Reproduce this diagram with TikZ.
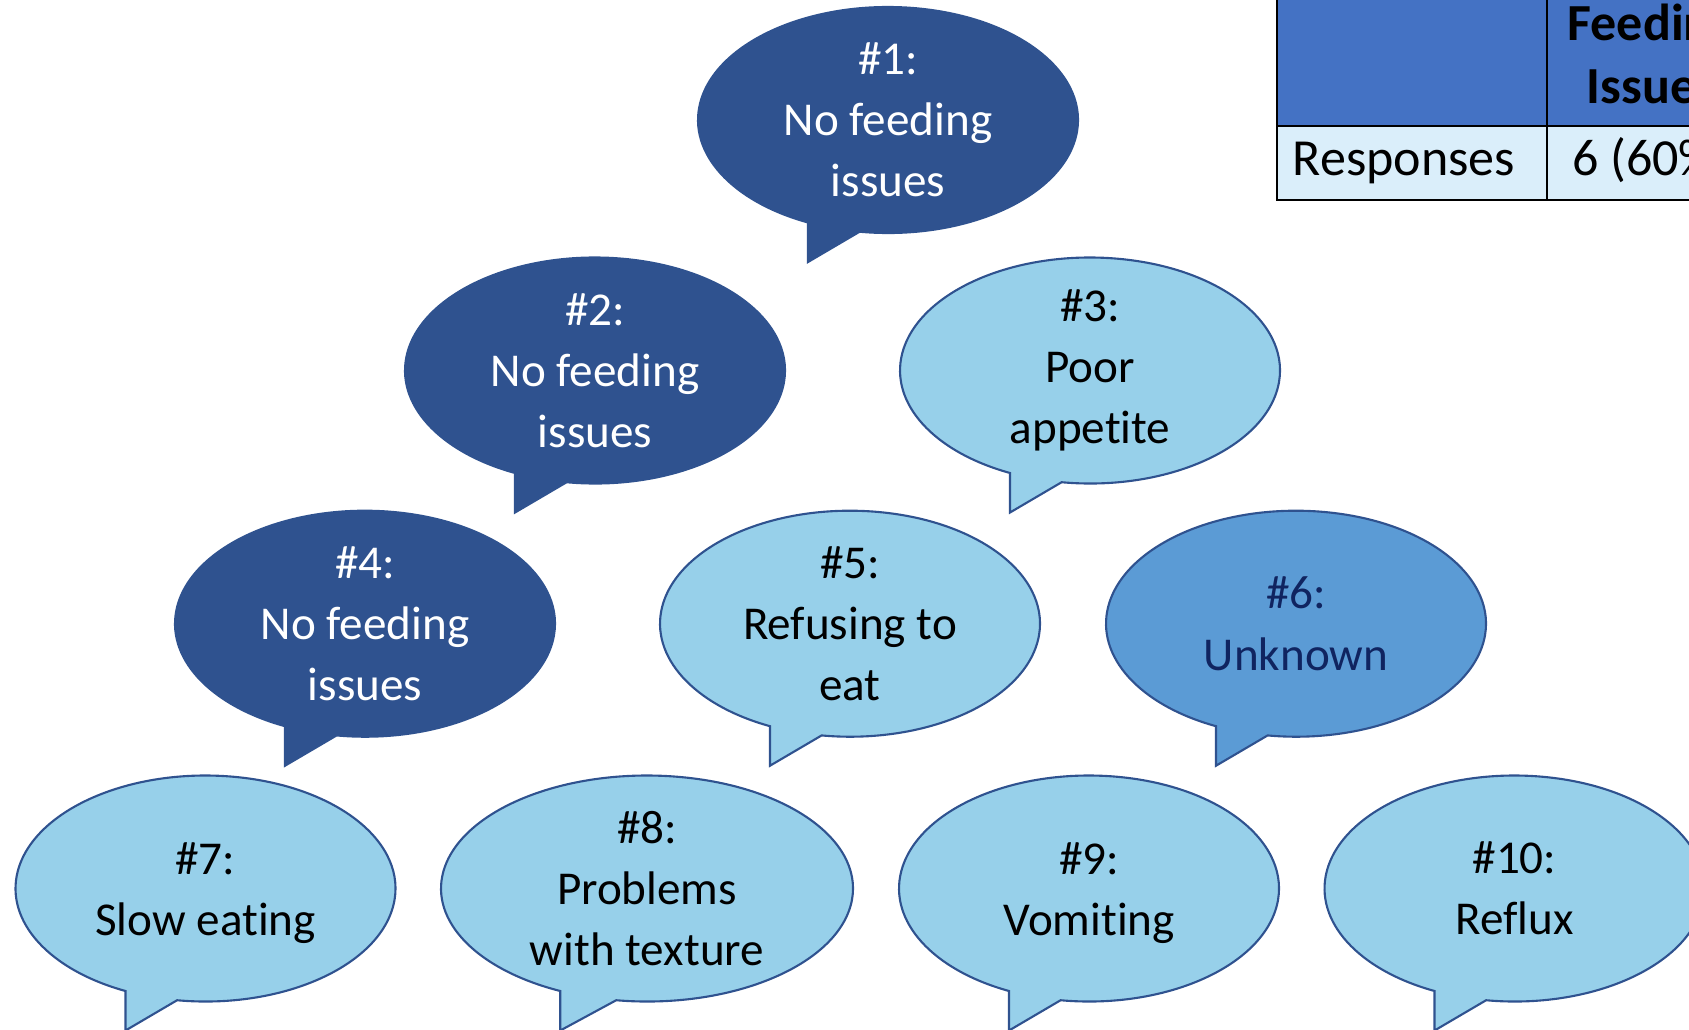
\documentclass[tikz,border=0pt]{standalone}
\usepackage{fontspec}
\setmainfont{Carlito}[Ligatures=NoCommon]
\usetikzlibrary{positioning}
\definecolor{darkblue}{RGB}{47,82,143}
\definecolor{skyblue}{RGB}{151,208,234}
\definecolor{midblue}{RGB}{91,155,213}
\definecolor{navytext}{RGB}{16,36,96}
\definecolor{headblue}{RGB}{68,114,196}
\definecolor{rowblue}{RGB}{218,238,250}

\tikzset{
  darkbubble/.style={fill=darkblue, draw=darkblue},
  lightbubble/.style={fill=skyblue, draw=darkblue},
  midbubble/.style={fill=midblue, draw=darkblue},
  bubbletext/.style={align=center, font=\fontsize{13.4}{17.4}\selectfont, inner sep=0pt},
  tabletext/.style={font=\fontsize{14.8}{18}\selectfont, inner sep=0pt},
}
% speech bubble: name, centre x, centre y, x radius, bubble style, text style, text
\newcommand{\speech}[7]{%
  \draw[#5, line width=0.6pt] ([shift={(#2,#3)}]261.4:#4 and 113)
    arc[start angle=261.4, end angle=605.1, x radius=#4, y radius=113]
    -- ++(0,-39.5) -- cycle;
  \node[bubbletext, #6] (#1) at (#2,#3) {#7};
}

\begin{document}
\begin{tikzpicture}[x=0.01cm, y=0.01cm]
  \useasboundingbox (0,0) rectangle (1689,1029);
  \clip (0,0) rectangle (1689,1029);
  % table in the corner
  \fill[headblue] (1277,903) rectangle (1760,1040);
  \fill[rowblue] (1277,829) rectangle (1760,903);
  \draw[line width=0.7pt] (1277,1040) -- (1277,829) -- (1760,829);
  \draw[line width=0.7pt] (1277,903) -- (1760,903);
  \draw[line width=0.7pt] (1547,1040) -- (1547,829);
  \node[tabletext, font=\fontsize{14.8}{18}\selectfont\bfseries, anchor=base] (headfeed) at (1652,989) {Feeding};
  \node[tabletext, font=\fontsize{14.8}{18}\selectfont\bfseries, anchor=base] (headissue) at (1652,926) {Issues};
  \node[tabletext, anchor=base west] (responses) at (1292,854) {Responses};
  \node[tabletext, anchor=base] (count) at (1652,854) {6 (60\%)};
  % bubbles
  \speech{one}{888}{909}{190}{darkbubble}{text=white}{\#1:\\No feeding\\issues}
  \speech{two}{595}{658.5}{190}{darkbubble}{text=white}{\#2:\\No feeding\\issues}
  \speech{three}{1090}{658.5}{190}{lightbubble}{text=black}{\#3:\\Poor\\appetite}
  \speech{four}{365}{405.3}{190}{darkbubble}{text=white}{\#4:\\No feeding\\issues}
  \speech{five}{850}{405.3}{190}{lightbubble}{text=black}{\#5:\\Refusing to\\eat}
  \speech{six}{1296}{405.3}{190}{midbubble}{text=navytext}{\#6:\\Unknown}
  \speech{seven}{205.5}{140.5}{190}{lightbubble}{text=black, yshift=-1.2pt}{\#7:\\Slow eating}
  \speech{eight}{647}{140.5}{206}{lightbubble}{text=black}{\#8:\\Problems\\with texture}
  \speech{nine}{1089}{140.5}{190}{lightbubble}{text=black, yshift=-1.2pt}{\#9:\\Vomiting}
  \speech{ten}{1514.5}{140.5}{190}{lightbubble}{text=black}{\#10:\\Reflux}
\end{tikzpicture}
\end{document}
